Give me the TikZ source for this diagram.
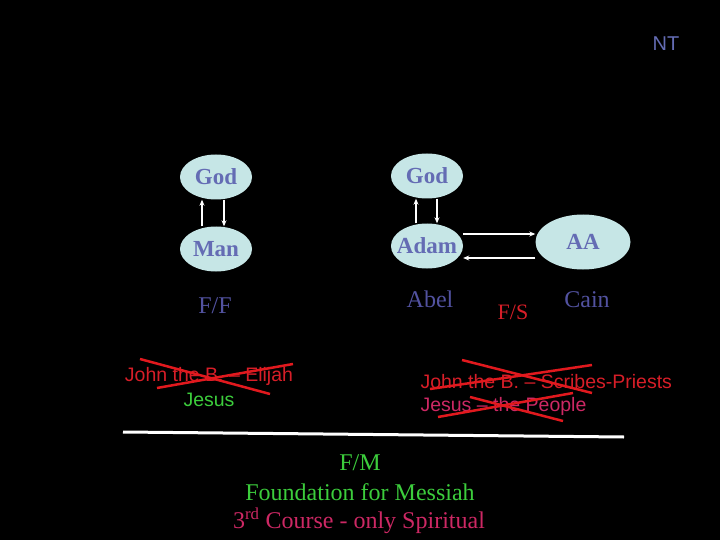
\documentclass[tikz,border=0pt]{standalone}
\usepackage{fontspec}
\setmainfont{Liberation Serif}
\setsansfont{Liberation Sans}
\usetikzlibrary{shapes.geometric,arrows.meta}

\definecolor{cyanfill}{RGB}{198,230,230}
\definecolor{godblue}{RGB}{100,108,180}
\definecolor{nameblue}{RGB}{82,82,160}
\definecolor{crossred}{RGB}{225,25,30}
\definecolor{textred}{RGB}{215,30,40}
\definecolor{jesusgreen}{RGB}{60,205,60}
\definecolor{coursered}{RGB}{205,40,100}

\begin{document}
\begin{tikzpicture}[x=1pt,y=-1pt,
		oval/.style={ellipse,fill=cyanfill,text=godblue,inner xsep=-5pt,inner ysep=0pt,minimum width=72pt,minimum height=45pt,font=\fontsize{23}{26}\selectfont\bfseries},
		serif/.style={font=\fontsize{24}{28}\selectfont},
		sans/.style={font=\sffamily\fontsize{19.5}{23}\selectfont},
		link/.style={-{Stealth[length=6pt,width=5pt]},white,line width=1.3pt},
		cross/.style={crossred,line width=2.5pt}]
		
		\fill[black] (0,0) rectangle (720,540);
		\useasboundingbox (0,0) rectangle (720,540);
		
		\node[text=godblue,font=\sffamily\fontsize{20}{24}\selectfont] (nt) at (666,44) {NT};
		
		\node[oval] (god1) at (216,177) {God};
		\node[oval] (man) at (216,249) {Man};
		\node[oval] (god2) at (427,176) {God};
		\node[oval] (adam) at (427,246) {Adam};
		\node[oval,minimum width=95pt,minimum height=55pt] (aa) at (583,242) {AA};
		
		\node[serif,text=nameblue] (ff) at (215,306) {F/F};
		\node[serif,text=nameblue] (abel) at (430,299) {Abel};
		\node[serif,text=nameblue] (cain) at (587,300) {Cain};
		\node[text=textred,font=\fontsize{22}{26}\selectfont] (fs) at (513,312) {F/S};
		
		\draw[link] ([xshift=-14pt]man.north) -- ([xshift=-14pt]god1.south);
		\draw[link] ([xshift=8pt]god1.south) -- ([xshift=8pt]man.north);
		\draw[link] ([xshift=-11pt]adam.north) -- ([xshift=-11pt]god2.south);
		\draw[link] ([xshift=10pt]god2.south) -- ([xshift=10pt]adam.north);
		\draw[link] ([yshift=12pt]adam.east) -- ([yshift=12pt]adam.east -| aa.west);
		\draw[link] ([yshift=-12pt]adam.east -| aa.west) -- ([yshift=-12pt]adam.east);
		
		\node[sans,text=textred] (elijah) at (209,376) {John the B. -- Elijah};
		\node[sans,text=jesusgreen] (jesus1) at (209,400) {Jesus};
		\node[sans,text=textred,anchor=west] (scribes) at (417,382) {John the B. -- Scribes-Priests};
		\node[sans,text=coursered,anchor=west] (people) at (417,406) {Jesus -- the People};
		
		\draw[cross] (140,359) -- (270,394);
		\draw[cross] (157,388) -- (293,364);
		\draw[cross] (462,360) -- (592,393);
		\draw[cross] (430,389) -- (592,365);
		\draw[cross] (438,417) -- (573,393);
		\draw[cross] (470,397) -- (563,421);
		
		\draw[white,line width=3pt] (123,432) -- (624,437);
		
		\node[serif,text=jesusgreen] (fm) at (360,463) {F/M};
		\node[serif,text=jesusgreen] (messiah) at (360,492) {Foundation for Messiah};
		\node[serif,text=coursered] (course) at (359,521) {3\textsuperscript{rd} Course - only Spiritual};
		
	\end{tikzpicture}
\end{document}
